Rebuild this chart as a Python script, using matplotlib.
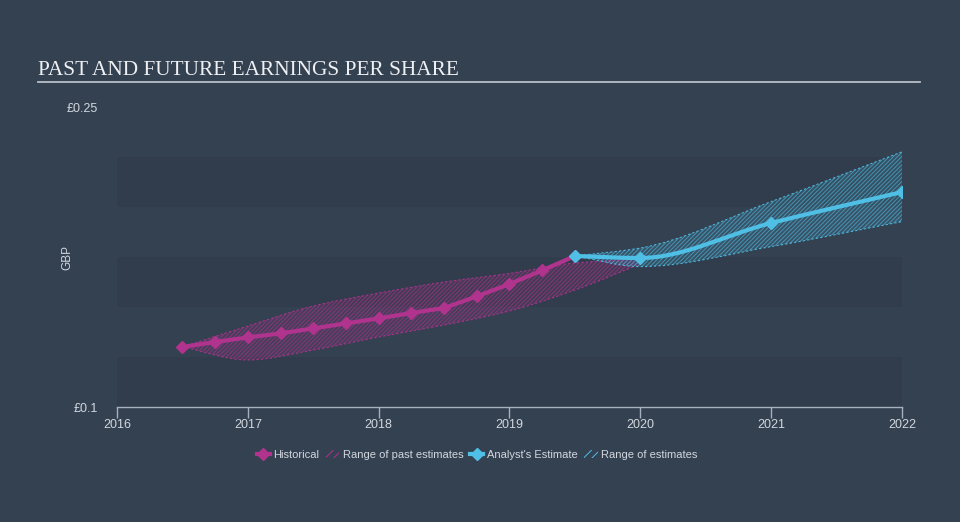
import numpy as np
import matplotlib
matplotlib.use("Agg")
import matplotlib.pyplot as plt
from matplotlib.path import Path
from matplotlib.patches import PathPatch, Patch
from matplotlib.lines import Line2D

# data (years as decimal, EPS in GBP)
hist_x = [2016.5, 2016.75, 2017.0, 2017.25, 2017.5, 2017.75, 2018.0, 2018.25,
          2018.5, 2018.75, 2019.0, 2019.25, 2019.5]
hist_y = [0.130, 0.1325, 0.1348, 0.1368, 0.1393, 0.1418, 0.1443, 0.147,
          0.1495, 0.1553, 0.1615, 0.1683, 0.1755]

past_x = [2016.5, 2017.0, 2017.5, 2018.0, 2018.5, 2019.0, 2019.5, 2020.0]
past_hi = [0.130, 0.1405, 0.1505, 0.157, 0.1625, 0.1668, 0.172, 0.174]
past_lo = [0.130, 0.1235, 0.1285, 0.135, 0.141, 0.148, 0.1585, 0.1715]

fc_x = [2019.5, 2020.0, 2021.0, 2022.0]
fc_y = [0.1755, 0.1745, 0.192, 0.2075]
fc_hi = [0.1755, 0.1795, 0.2027, 0.2276]
fc_lo = [0.1755, 0.1702, 0.1802, 0.1927]

PINK = "#b0338e"
BLUE = "#4fbfe6"
BG = "#344151"
BAND = "#313d4c"
TXT = "#d2d7de"


def smooth_path(xs, ys):
    # monotone cubic (Fritsch-Carlson) through the points, as beziers
    x = np.asarray(xs, float)
    y = np.asarray(ys, float)
    h = np.diff(x)
    d = np.diff(y) / h
    m = np.zeros_like(y)
    m[0], m[-1] = d[0], d[-1]
    for i in range(1, len(y) - 1):
        if d[i - 1] * d[i] > 0:
            w1 = 2 * h[i] + h[i - 1]
            w2 = h[i] + 2 * h[i - 1]
            m[i] = (w1 + w2) / (w1 / d[i - 1] + w2 / d[i])
    verts = [(x[0], y[0])]
    codes = [Path.MOVETO]
    for i in range(len(x) - 1):
        verts += [(x[i] + h[i] / 3, y[i] + m[i] * h[i] / 3),
                  (x[i + 1] - h[i] / 3, y[i + 1] - m[i + 1] * h[i] / 3),
                  (x[i + 1], y[i + 1])]
        codes += [Path.CURVE4] * 3
    return verts, codes


def band_path(xs, lo, hi):
    v1, c1 = smooth_path(xs, hi)
    v2, c2 = smooth_path(xs[::-1], lo[::-1])
    c2[0] = Path.LINETO
    return Path(v1 + v2 + [v1[0]], c1 + c2 + [Path.CLOSEPOLY])


plt.rcParams['hatch.linewidth'] = 0.7
fig = plt.figure(figsize=(9.6, 5.22), dpi=100, facecolor=BG)
ax = fig.add_axes([117 / 960, 1 - 407 / 522, 785 / 960, 300 / 522])
ax.set_facecolor("none")

for lo_b in (0.1, 0.15, 0.2):
    ax.axhspan(lo_b, lo_b + 0.025, color=BAND, lw=0, zorder=0)

# range bands
for xs, lo, hi, col in ((past_x, past_lo, past_hi, PINK), (fc_x, fc_lo, fc_hi, BLUE)):
    pth = band_path(xs, lo, hi)
    ax.add_patch(PathPatch(pth, facecolor=col, alpha=0.15, lw=0, zorder=1))
    ax.add_patch(PathPatch(pth, facecolor="none", edgecolor=col, hatch="////////",
                           lw=0, alpha=0.6, zorder=1))
    for ys in (lo, hi):
        v, c = smooth_path(xs, ys)
        ax.add_patch(PathPatch(Path(v, c), facecolor="none", edgecolor=col,
                               lw=0.8, ls=(0, (2, 2)), alpha=0.9, zorder=2))

# historical
ax.plot(hist_x, hist_y, color=PINK, lw=3, marker="D", ms=6.5, zorder=3,
        solid_capstyle="round")

# forecast
v, c = smooth_path(fc_x, fc_y)
ax.add_patch(PathPatch(Path(v, c), facecolor="none", edgecolor=BLUE, lw=3,
                       zorder=4, capstyle="round"))
ax.plot(fc_x, fc_y, ls="none", color=BLUE, marker="D", ms=6.5, zorder=5)

ax.set_xlim(2016, 2022)
ax.set_ylim(0.1, 0.25)
for s in ("top", "right", "left"):
    ax.spines[s].set_visible(False)
ax.spines["bottom"].set_color("#a7b1be")
ax.spines["bottom"].set_linewidth(1)
ax.set_xticks(range(2016, 2023))
ax.tick_params(axis="x", colors="#a7b1be", length=8, width=1, labelcolor=TXT,
               labelsize=9, pad=1)
ax.set_yticks([0.1, 0.25])
ax.set_yticklabels(["£0.1", "£0.25"])
ax.tick_params(axis="y", length=0, labelcolor=TXT, labelsize=9, pad=14)
for lab in ax.get_xticklabels() + ax.get_yticklabels():
    lab.set_fontfamily("Liberation Sans")
ax.set_ylabel("GBP", color=TXT, fontsize=8.5, fontfamily="Liberation Sans")
ax.yaxis.set_label_coords(-44 / 785, 0.5)

# title
fig.text(38 / 960, 1 - 75 / 522, "PAST AND FUTURE EARNINGS PER SHARE",
         fontfamily="Liberation Serif", fontsize=15.3, color="#eef0f3", va="baseline")
fig.add_artist(Line2D([38 / 960, 920 / 960], [1 - 82 / 522] * 2, color="#b9bfc7",
                      lw=1.3, transform=fig.transFigure))

# legend
handles = [
    Line2D([], [], color=PINK, lw=3, marker="D", ms=6),
    Patch(facecolor="none", edgecolor=PINK, hatch="////", lw=0),
    Line2D([], [], color=BLUE, lw=3, marker="D", ms=6),
    Patch(facecolor="none", edgecolor=BLUE, hatch="////", lw=0),
]
labels = ["Historical", "Range of past estimates", "Analyst's Estimate", "Range of estimates"]
leg = fig.legend(handles, labels, loc="center", bbox_to_anchor=(477 / 960, 1 - 455 / 522),
                 ncol=4, frameon=False, handlelength=1.2, handletextpad=0.3,
                 columnspacing=0.6, prop={"family": "Liberation Sans", "size": 8})
for t in leg.get_texts():
    t.set_color(TXT)

fig.savefig("out.png", dpi=100, facecolor=BG)
